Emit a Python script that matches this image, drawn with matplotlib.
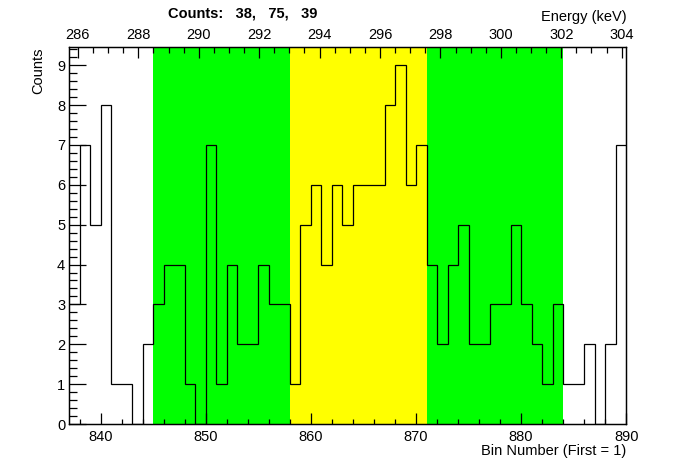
import matplotlib
matplotlib.use("Agg")
import matplotlib.pyplot as plt
from matplotlib.ticker import MultipleLocator
import numpy as np

plt.rcParams['font.family'] = ['Liberation Sans', 'DejaVu Sans']

# ---- data ----
first_bin = 837
counts = [3, 7, 5, 8, 1, 1, 0, 2, 3, 4, 4, 1, 0, 7, 1, 4, 2, 2, 4, 3, 3,
          1, 5, 6, 4, 6, 5, 6, 6, 6, 8, 9, 6, 7,
          4, 2, 4, 5, 2, 2, 3, 3, 5, 3, 2, 1, 3,
          1, 1, 2, 0, 2, 7]
green_left = (845, 858)
yellow_mid = (858, 871)
green_right = (871, 884)
region_counts = [38, 75, 39]
energy_limits = (285.716, 304.15)   # energy at the left / right edge of the frame
x_limits = (837, 890)
y_max = 9.45

edges = np.arange(first_bin, first_bin + len(counts) + 1)

W, H = 696, 472
fig = plt.figure(figsize=(W / 100, H / 100), dpi=100)
ax = fig.add_axes([69.3 / W, 1 - 424 / H, (626.2 - 69.3) / W, (424 - 47.3) / H])

ax.axvspan(*green_left, color='#00ff00', lw=0, zorder=0)
ax.axvspan(*yellow_mid, color='#ffff00', lw=0, zorder=0)
ax.axvspan(*green_right, color='#00ff00', lw=0, zorder=0)

ax.stairs(counts, edges, color='black', lw=0.9, baseline=None, zorder=3)

ax.set_xlim(*x_limits)
ax.set_ylim(0, y_max)

for s in ax.spines.values():
    s.set_linewidth(0.9)
    s.set_zorder(5)

fs = 10.5
ax.xaxis.set_major_locator(MultipleLocator(10))
ax.xaxis.set_minor_locator(MultipleLocator(2))
ax.yaxis.set_major_locator(MultipleLocator(1))
ax.yaxis.set_minor_locator(MultipleLocator(0.2))
ax.tick_params(axis='x', which='major', direction='in', length=7.7, width=0.9,
               labelsize=fs, pad=4, top=False)
ax.tick_params(axis='x', which='minor', direction='in', length=3.6, width=0.9, top=False)
ax.tick_params(axis='y', which='major', direction='in', length=12, width=0.9,
               labelsize=fs, pad=3, right=False)
ax.tick_params(axis='y', which='minor', direction='in', length=5.4, width=0.9, right=False)

# energy axis on top
ax2 = ax.twiny()
ax2.set_xlim(*energy_limits)
ax2.xaxis.set_major_locator(MultipleLocator(2))
ax2.xaxis.set_minor_locator(MultipleLocator(0.5))
ax2.tick_params(axis='x', which='major', direction='in', length=7.9, width=0.9,
                labelsize=fs, pad=4)
ax2.tick_params(axis='x', which='minor', direction='in', length=4.3, width=0.9)
for s in ax2.spines.values():
    s.set_linewidth(0.9)

fig.text(38.7 / W, 1 - 47.5 / H, 'Counts', rotation=90, ha='center', va='top', fontsize=fs)
fig.text(626.5 / W, 1 - 450.5 / H, 'Bin Number (First = 1)', ha='right', va='center', fontsize=fs)
fig.text(626.5 / W, 1 - 17.5 / H, 'Energy (keV)', ha='right', va='center', fontsize=fs)
fig.text(243 / W, 1 - 14 / H,
         'Counts:   ' + ',   '.join(str(c) for c in region_counts),
         ha='center', va='center', fontsize=fs, fontweight='bold')

fig.savefig('out.png', dpi=100)
